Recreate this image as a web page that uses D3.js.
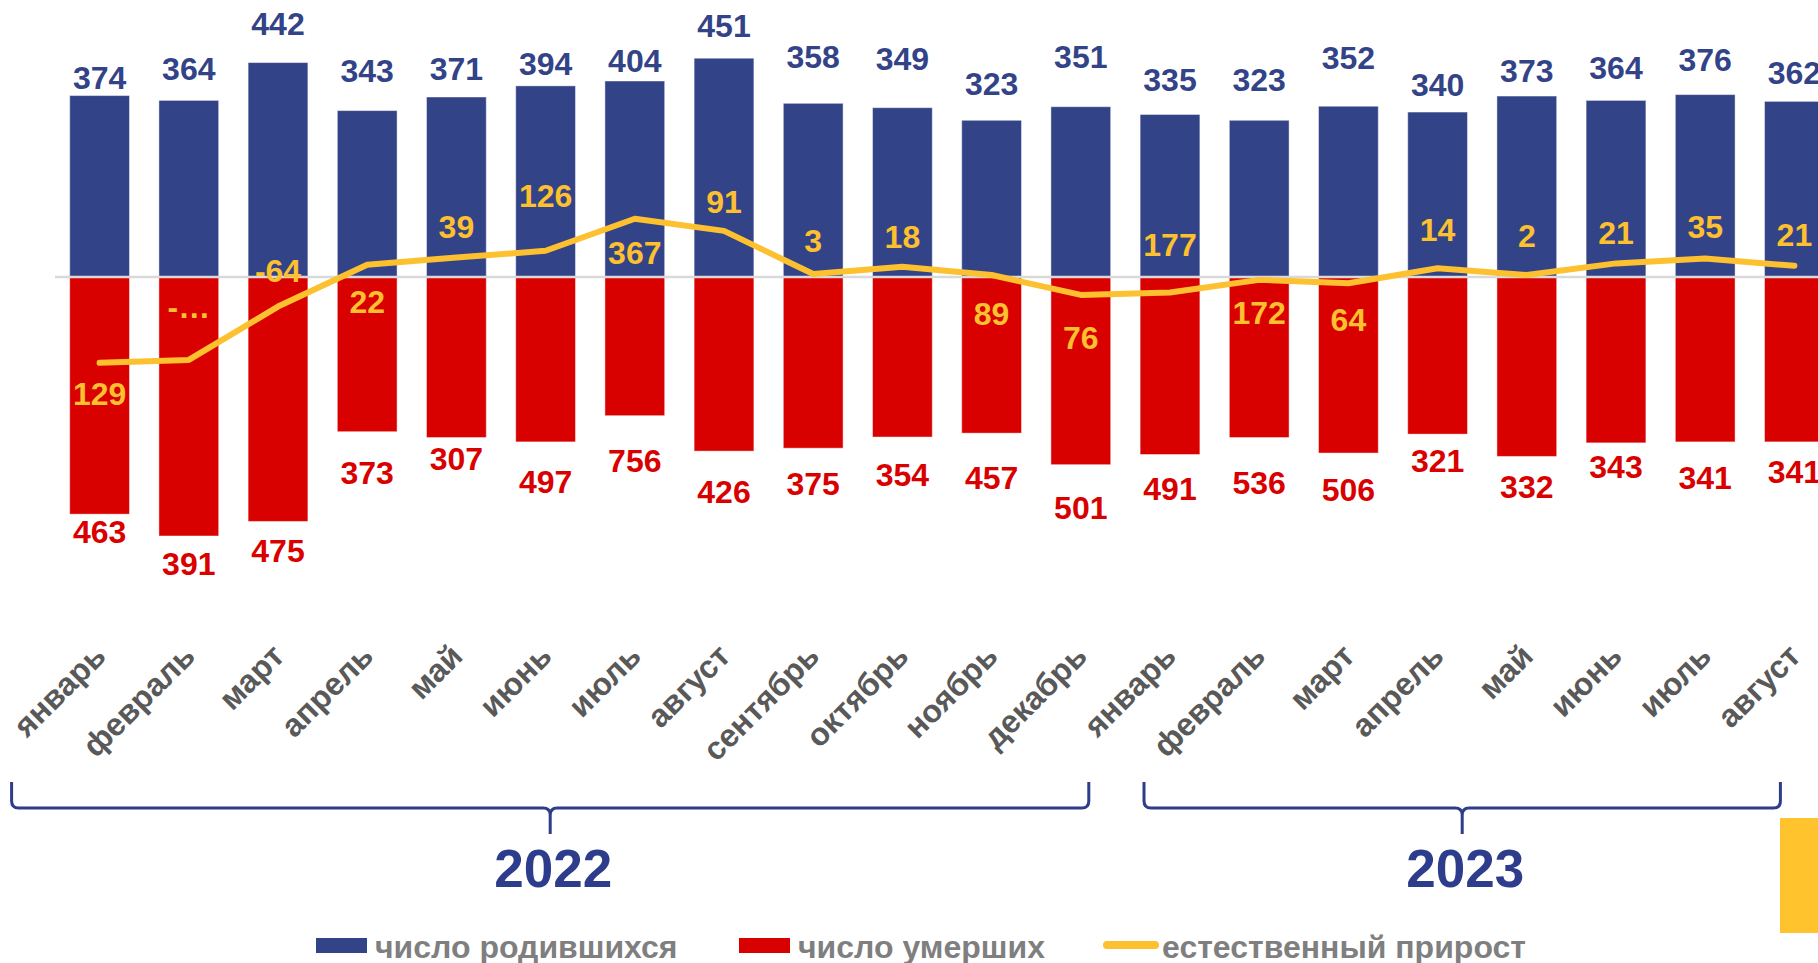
<!DOCTYPE html>
<html>
<head>
<meta charset="utf-8">
<script src="https://cdn.jsdelivr.net/npm/d3@7"></script>
<style>
  html, body { margin: 0; padding: 0; background: #fff; }
  svg { display: block; font-family: "Liberation Sans", Arial, sans-serif; font-weight: bold; }
</style>
</head>
<body>
<svg id="chart" width="1818" height="963"></svg>
<script>
// months shown under the bars (2022: Jan-Dec, 2023: Jan-Aug)
const months = ["январь", "февраль", "март", "апрель", "май", "июнь", "июль", "август",
  "сентябрь", "октябрь", "ноябрь", "декабрь",
  "январь", "февраль", "март", "апрель", "май", "июнь", "июль", "август"];

// births (bar heights match their labels)
const births = [374, 364, 442, 343, 371, 394, 404, 451, 358, 349, 323, 351,
  335, 323, 352, 340, 373, 364, 376, 362];

// deaths
const deaths = [489, 534, 504, 319, 331, 340, 286, 359, 353, 330, 322, 387,
  366, 331, 363, 324, 370, 342, 340, 340];
// labels printed on the death bars, as they appear
const deathLabels = ["463", "391", "475", "373", "307", "497", "756", "426", "375", "354", "457", "501",
  "491", "536", "506", "321", "332", "343", "341", "341"];

// natural increase line, read from its position
const growth = [-177, -171, -61, 25, 40, 54, 120, 95, 6, 21, 4, -37,
  -32, -6, -13, 18, 4, 28, 38, 23];
// labels printed next to the line, as they appear
const growthLabels = ["129", "-…", "-64", "22", "39", "126", "367", "91", "3", "18", "89", "76",
  "177", "172", "64", "14", "2", "21", "35", "21"];

const years = [
  { year: "2022", from: 0, to: 11 },
  { year: "2023", from: 12, to: 19 }
];

// label placement nudges (px)
const birthGap = [7, 20, 28, 29, 17, 11, 9, 21, 35, 38, 25, 39, 23, 29, 37, 16, 14, 21, 24, 17];
const deathGap = [29, 39, 41, 52, 32, 51, 56, 52, 47, 49, 56, 54, 46, 56, 48, 38, 42, 35, 47, 41];
const growthGap = [42, -42, -25, 48, -20, -44, 45, -18, -22, -19, 50, 54, -36, 44, 48, -27, -28, -19, -21, -20];

const BLUE = "#334387", RED = "#d90000", YELLOW = "#fdc02f", GREY = "#595959";

const svg = d3.select("#chart");
const W = 1818;

const x = d3.scaleBand()
  .domain(d3.range(months.length))
  .range([55, 55 + 89.2 * months.length])
  .paddingInner(0.33)
  .paddingOuter(0.165);
const cx = i => x(i) + x.bandwidth() / 2;

const y = d3.scaleLinear().domain([-600, 571]).range([568, 0]);
const y0 = y(0);

// bars
svg.append("g").selectAll("rect")
  .data(births)
  .join("rect")
  .attr("x", (d, i) => x(i))
  .attr("width", x.bandwidth())
  .attr("y", d => y(d))
  .attr("height", d => y0 - y(d))
  .attr("fill", BLUE)
  .attr("stroke", "rgba(255,255,255,0.45)")
  .attr("stroke-width", 1);

svg.append("g").selectAll("rect")
  .data(deaths)
  .join("rect")
  .attr("x", (d, i) => x(i))
  .attr("width", x.bandwidth())
  .attr("y", y0)
  .attr("height", d => y(-d) - y0)
  .attr("fill", RED)
  .attr("stroke", "rgba(255,255,255,0.45)")
  .attr("stroke-width", 1);

// zero line
svg.append("line")
  .attr("x1", 55).attr("x2", W)
  .attr("y1", y0).attr("y2", y0)
  .attr("stroke", "#d9d9d9")
  .attr("stroke-width", 2.5);

// natural increase line
const line = d3.line().x((d, i) => cx(i)).y(d => y(d));
svg.append("path")
  .datum(growth)
  .attr("d", line)
  .attr("fill", "none")
  .attr("stroke", YELLOW)
  .attr("stroke-width", 6)
  .attr("stroke-linejoin", "round")
  .attr("stroke-linecap", "round");

// value labels
svg.append("g").selectAll("text")
  .data(births)
  .join("text")
  .attr("x", (d, i) => cx(i))
  .attr("y", (d, i) => y(d) - birthGap[i])
  .attr("text-anchor", "middle")
  .attr("font-size", 32)
  .attr("fill", BLUE)
  .text(d => d);

svg.append("g").selectAll("text")
  .data(deaths)
  .join("text")
  .attr("x", (d, i) => cx(i))
  .attr("y", (d, i) => y(-d) + deathGap[i])
  .attr("text-anchor", "middle")
  .attr("font-size", 32)
  .attr("fill", RED)
  .text((d, i) => deathLabels[i]);

svg.append("g").selectAll("text")
  .data(growth)
  .join("text")
  .attr("x", (d, i) => cx(i))
  .attr("y", (d, i) => y(d) + growthGap[i])
  .attr("text-anchor", "middle")
  .attr("font-size", 32)
  .attr("fill", YELLOW)
  .text((d, i) => growthLabels[i]);

// month labels, rotated
svg.append("g").selectAll("text")
  .data(months)
  .join("text")
  .attr("transform", (d, i) => `translate(${cx(i) + 8},658) rotate(-45)`)
  .attr("text-anchor", "end")
  .attr("font-size", 32)
  .attr("fill", GREY)
  .text(d => d);

// year braces
const braceLeft = [cx(0) - 88, cx(12) - 26];
const braceRight = [cx(11) + 8, cx(19) - 14];
const bTop = 782, bMid = 808, bTip = 834, r = 7;
years.forEach((yr, k) => {
  const x1 = braceLeft[k], x2 = braceRight[k], c = (x1 + x2) / 2;
  const p = d3.path();
  p.moveTo(x1, bTop);
  p.lineTo(x1, bMid - r);
  p.quadraticCurveTo(x1, bMid, x1 + r, bMid);
  p.lineTo(c - r, bMid);
  p.quadraticCurveTo(c, bMid, c, bMid + r);
  p.lineTo(c, bTip);
  p.moveTo(c, bMid + r);
  p.quadraticCurveTo(c, bMid, c + r, bMid);
  p.lineTo(x2 - r, bMid);
  p.quadraticCurveTo(x2, bMid, x2, bMid - r);
  p.lineTo(x2, bTop);
  svg.append("path")
    .attr("d", p.toString())
    .attr("fill", "none")
    .attr("stroke", "#2e3d8b")
    .attr("stroke-width", 3);
  svg.append("text")
    .attr("x", c + 3)
    .attr("y", 887)
    .attr("text-anchor", "middle")
    .attr("font-size", 53)
    .attr("fill", "#2e3d8b")
    .text(yr.year);
});

// decorative yellow block at the right edge
svg.append("rect")
  .attr("x", 1780).attr("y", 818)
  .attr("width", W - 1780).attr("height", 115)
  .attr("fill", "#fec32d");

// legend
const legend = [
  { name: "число родившихся", color: BLUE, type: "box", x: 316 },
  { name: "число умерших", color: RED, type: "box", x: 739 },
  { name: "естественный прирост", color: YELLOW, type: "line", x: 1103 }
];
const lg = svg.append("g");
legend.forEach(item => {
  if (item.type === "box") {
    lg.append("rect")
      .attr("x", item.x).attr("y", 938)
      .attr("width", 51).attr("height", 15)
      .attr("fill", item.color);
  } else {
    lg.append("line")
      .attr("x1", item.x + 4).attr("x2", item.x + 52)
      .attr("y1", 945).attr("y2", 945)
      .attr("stroke", item.color)
      .attr("stroke-width", 8)
      .attr("stroke-linecap", "round");
  }
  lg.append("text")
    .attr("x", item.x + 59)
    .attr("y", 958)
    .attr("font-size", 32)
    .attr("fill", "#7f7f7f")
    .text(item.name);
});
</script>
</body>
</html>
